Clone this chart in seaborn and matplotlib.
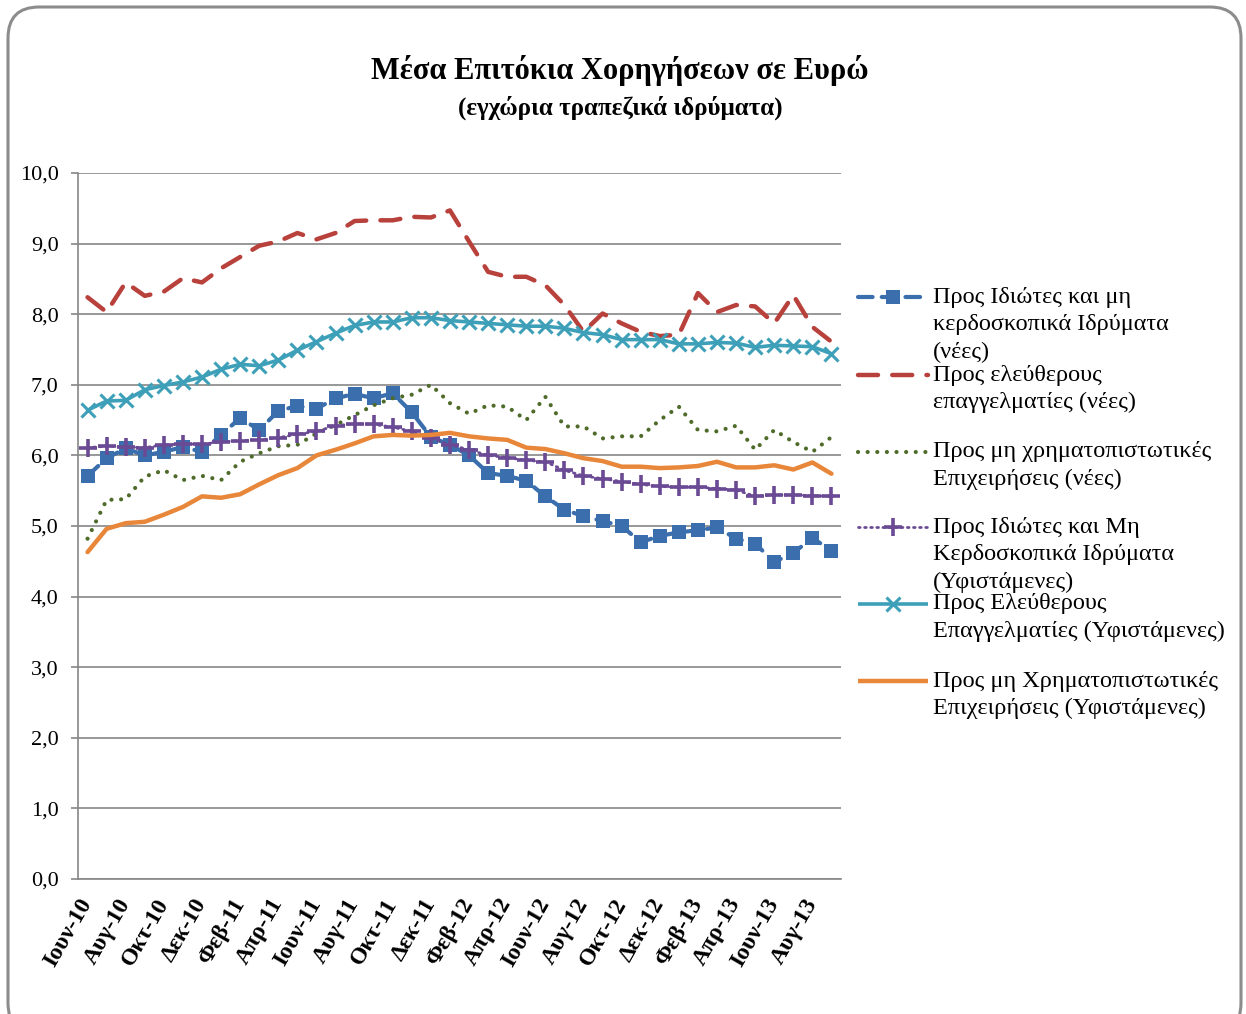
import numpy as np
import pandas as pd
import matplotlib.pyplot as plt
import seaborn as sns
from matplotlib.lines import Line2D
from matplotlib.patches import FancyBboxPatch

# ── Data ───────────────────────────────────────────────────────────────────────
MONTHS = ["Ιαν", "Φεβ", "Μαρ", "Απρ", "Μαι", "Ιουν",
          "Ιουλ", "Αυγ", "Σεπ", "Οκτ", "Νοε", "Δεκ"]
PERIODS = [f"{MONTHS[(5 + i) % 12]}-{10 + (5 + i) // 12}" for i in range(40)]  # Ιουν-10 .. Σεπ-13

households_new = [5.71, 5.96, 6.10, 6.00, 6.05, 6.12, 6.05, 6.29, 6.53, 6.36,
                  6.63, 6.70, 6.66, 6.81, 6.87, 6.81, 6.88, 6.61, 6.26, 6.15,
                  6.00, 5.75, 5.71, 5.64, 5.42, 5.23, 5.14, 5.07, 5.00, 4.77,
                  4.86, 4.91, 4.94, 4.98, 4.82, 4.75, 4.49, 4.62, 4.83, 4.65]
professionals_new = [8.24, 8.03, 8.45, 8.26, 8.32, 8.51, 8.45, 8.65, 8.81, 8.97,
                     9.03, 9.15, 9.06, 9.15, 9.32, 9.33, 9.33, 9.38, 9.37, 9.47,
                     9.03, 8.60, 8.53, 8.53, 8.41, 8.13, 7.75, 8.01, 7.87, 7.75,
                     7.69, 7.71, 8.30, 8.03, 8.13, 8.11, 7.87, 8.27, 7.82, 7.61]
nfc_new = [4.82, 5.37, 5.38, 5.70, 5.79, 5.65, 5.71, 5.65, 5.91, 6.03,
           6.13, 6.15, 6.31, 6.43, 6.57, 6.71, 6.81, 6.86, 7.00, 6.74,
           6.59, 6.71, 6.69, 6.50, 6.83, 6.41, 6.41, 6.24, 6.27, 6.27,
           6.50, 6.69, 6.36, 6.34, 6.42, 6.08, 6.36, 6.19, 6.05, 6.26]
households_out = [6.11, 6.13, 6.12, 6.11, 6.15, 6.16, 6.16, 6.19, 6.21, 6.22,
                  6.25, 6.30, 6.34, 6.42, 6.45, 6.44, 6.40, 6.34, 6.24, 6.15,
                  6.08, 6.00, 5.97, 5.93, 5.91, 5.79, 5.71, 5.67, 5.63, 5.59,
                  5.56, 5.55, 5.55, 5.53, 5.51, 5.42, 5.44, 5.44, 5.43, 5.42]
professionals_out = [6.64, 6.77, 6.78, 6.93, 6.99, 7.04, 7.11, 7.22, 7.29, 7.27,
                     7.35, 7.49, 7.61, 7.73, 7.84, 7.89, 7.89, 7.95, 7.95, 7.91,
                     7.89, 7.87, 7.85, 7.83, 7.83, 7.80, 7.74, 7.71, 7.64, 7.64,
                     7.64, 7.58, 7.58, 7.60, 7.59, 7.53, 7.56, 7.55, 7.54, 7.44]
nfc_out = [4.63, 4.96, 5.04, 5.06, 5.16, 5.27, 5.42, 5.40, 5.45, 5.59,
           5.72, 5.82, 6.00, 6.08, 6.17, 6.27, 6.29, 6.28, 6.29, 6.32,
           6.27, 6.24, 6.22, 6.11, 6.09, 6.03, 5.96, 5.92, 5.84, 5.84,
           5.82, 5.83, 5.85, 5.91, 5.83, 5.83, 5.86, 5.80, 5.90, 5.74]

LEGEND_LINES = [
    ["Προς Ιδιώτες και μη", "κερδοσκοπικά Ιδρύματα", "(νέες)"],
    ["Προς ελεύθερους", "επαγγελματίες (νέες)"],
    ["Προς μη χρηματοπιστωτικές", "Επιχειρήσεις (νέες)"],
    ["Προς Ιδιώτες και Μη", "Κερδοσκοπικά Ιδρύματα", "(Υφιστάμενες)"],
    ["Προς Ελεύθερους", "Επαγγελματίες (Υφιστάμενες)"],
    ["Προς μη Χρηματοπιστωτικές", "Επιχειρήσεις (Υφιστάμενες)"],
]
SERIES = [households_new, professionals_new, nfc_new,
          households_out, professionals_out, nfc_out]

# ── Styles ─────────────────────────────────────────────────────────────────────
STYLES = [
    dict(color="#3A6EAC", lw=3.0, ls=(0, (3.5, 2.2)), marker="s", ms=9.5, mew=0),
    dict(color="#B8413C", lw=3.2, ls=(0, (4.5, 3.2)), marker=None, ms=0, mew=0),
    dict(color="#4E6B2A", lw=3.0, ls=(0, (0.01, 2.3)), marker=None, ms=0, mew=0),
    dict(color="#6A4A94", lw=2.0, ls=(0, (0.6, 1.6)), marker="+", ms=13, mew=2.6),
    dict(color="#3DA0B8", lw=2.6, ls="-", marker="x", ms=10, mew=2.2),
    dict(color="#E8873A", lw=3.2, ls="-", marker=None, ms=0, mew=0),
]

W, H = 1246, 1014
sns.set_style("white")
plt.rcParams["font.family"] = ["Liberation Serif", "DejaVu Serif"]
plt.rcParams["text.color"] = "black"
plt.rcParams["xtick.labelcolor"] = "black"
plt.rcParams["ytick.labelcolor"] = "black"

fig = plt.figure(figsize=(W / 100, H / 100), dpi=100)
ax = fig.add_axes([78 / W, 1 - 879 / H, (841 - 78) / W, (879 - 173) / H])

x = np.arange(len(PERIODS))
for vals, st, lines in zip(SERIES, STYLES, LEGEND_LINES):
    df = pd.DataFrame({"x": x, "y": vals})
    kw = dict(color=st["color"], linewidth=st["lw"], linestyle=st["ls"],
              dash_capstyle="round", solid_capstyle="round")
    if st["marker"]:
        kw.update(marker=st["marker"], markersize=st["ms"], markeredgewidth=st["mew"],
                  markeredgecolor=st["color"], markerfacecolor=st["color"])
    sns.lineplot(data=df, x="x", y="y", ax=ax, label=" ".join(lines), legend=False, **kw)

GRID = "#868686"
ax.set_xlim(-0.5, len(PERIODS) - 0.5)
ax.set_ylim(0, 10)
ax.set_yticks(np.arange(0, 10.5, 1.0))
ax.set_yticklabels([f"{v:.1f}".replace(".", ",") for v in np.arange(0, 10.5, 1.0)],
                   fontsize=16)
ax.yaxis.grid(True, color=GRID, linewidth=1.2)
ax.set_axisbelow(True)
ax.set_xticks(x[::2])
ax.set_xticklabels(PERIODS[::2], rotation=60, ha="right", va="center",
                   rotation_mode="anchor", fontsize=17, fontweight="bold")
ax.set_xticks(np.arange(-0.5, len(PERIODS), 2), minor=True)
ax.tick_params(axis="x", which="major", length=0, pad=15, labelcolor="black")
ax.tick_params(axis="x", which="minor", length=6, color=GRID, width=1.2)
ax.tick_params(axis="y", length=5, color=GRID, width=1.2, pad=9, left=True,
               labelcolor="black")
for s in ["top", "right"]:
    ax.spines[s].set_visible(False)
for s in ["left", "bottom"]:
    ax.spines[s].set_color(GRID)
    ax.spines[s].set_linewidth(1.2)
ax.set_xlabel("")
ax.set_ylabel("")

# ── Titles ─────────────────────────────────────────────────────────────────────
fig.text(620 / W, 1 - 70 / H, "Μέσα Επιτόκια Χορηγήσεων σε Ευρώ",
         ha="center", va="center", fontsize=22, fontweight="bold", color="black")
fig.text(620 / W, 1 - 108 / H, "(εγχώρια τραπεζικά ιδρύματα)",
         ha="center", va="center", fontsize=18, fontweight="bold", color="black")

# ── Legend (keys aligned with the first line of each label) ───────────────────
FIRST_LINE_Y = [297, 375, 452, 527, 604, 681]
for st, lines, y0 in zip(STYLES, LEGEND_LINES, FIRST_LINE_Y):
    yk = 1 - y0 / H
    key = Line2D([858 / W, 893 / W, 928 / W], [yk, yk, yk], transform=fig.transFigure,
                 color=st["color"], linewidth=st["lw"], linestyle=st["ls"],
                 dash_capstyle="round", solid_capstyle="butt",
                 marker=st["marker"] or "None", markevery=[1],
                 markersize=st["ms"], markeredgewidth=st["mew"],
                 markeredgecolor=st["color"], markerfacecolor=st["color"])
    fig.add_artist(key)
    for k, line in enumerate(lines):
        fig.text(933 / W, 1 - (y0 + 27.5 * k) / H, line, ha="left", va="center",
                 fontsize=17.5, color="black")

# ── Rounded frame ──────────────────────────────────────────────────────────────
frame = FancyBboxPatch((8 / W, -20 / H), (1241 - 8) / W, (H - 7 + 20) / H,
                       boxstyle="round,pad=0,rounding_size=0.025",
                       transform=fig.transFigure, facecolor="none",
                       edgecolor="#8C8C8C", linewidth=2.2, mutation_aspect=W / H)
fig.add_artist(frame)

fig.savefig("out.png", dpi=100)
